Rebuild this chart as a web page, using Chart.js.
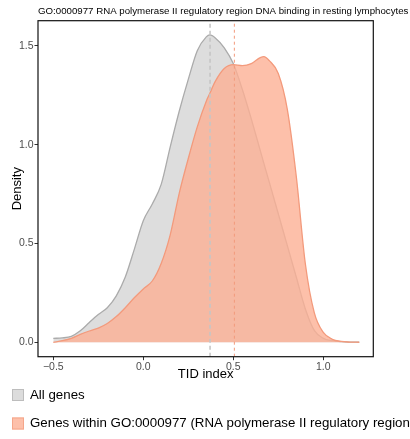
<!DOCTYPE html>
<html lang="en">
<head>
<meta charset="UTF-8">
<title>TID index density</title>
<script src="https://cdn.jsdelivr.net/npm/chart.js"></script>
<style>
  html, body { margin: 0; padding: 0; background: #fff; }
</style>
</head>
<body>
<canvas id="densityChart" width="410" height="439"></canvas>
<script>
// TID index grid and density values
const tidIndex = [-0.5, -0.45, -0.4, -0.35, -0.3, -0.25, -0.2, -0.15, -0.1, -0.05,
                  0, 0.05, 0.1, 0.15, 0.2, 0.25, 0.3, 0.35, 0.37, 0.4,
                  0.45, 0.5, 0.55, 0.6, 0.65, 0.67, 0.7, 0.75, 0.8, 0.85,
                  0.9, 0.95, 1.0, 1.05, 1.1, 1.15, 1.2];
const allGenes = [0.02, 0.022, 0.03, 0.058, 0.1, 0.14, 0.175, 0.235, 0.33, 0.47,
                  0.615, 0.7, 0.8, 0.99, 1.17, 1.33, 1.475, 1.545, 1.555, 1.54,
                  1.49, 1.41, 1.28, 1.13, 0.97, 0.905, 0.81, 0.65, 0.49, 0.33,
                  0.17, 0.06, 0.02, 0.008, 0.003, 0.001, 0];
const goGenes = [0, 0.008, 0.02, 0.04, 0.057, 0.072, 0.095, 0.13, 0.175, 0.225,
                 0.27, 0.31, 0.4, 0.545, 0.755, 0.93, 1.09, 1.22, 1.26, 1.32,
                 1.385, 1.405, 1.4, 1.41, 1.44, 1.445, 1.425, 1.36, 1.18, 0.84,
                 0.4, 0.15, 0.05, 0.015, 0.004, 0.001, 0];
// means (dashed lines)
const meanAll = 0.371;
const meanGo = 0.506;

const xTicks = [-0.5, 0, 0.5, 1.0];
const xTickLabels = ['\u22120.5', '0.0', '0.5', '1.0'];
const yTicks = [0, 0.5, 1.0, 1.5];
const yTickLabels = ['0.0', '0.5', '1.0', '1.5'];
const xRange = [-0.585, 1.278];
const yRange = [-0.073, 1.627];

const seriesNames = ['All genes', 'Genes within GO:0000977 (RNA polymerase II regulatory region DNA binding)'];
const titleText = 'GO:0000977 RNA polymerase II regulatory region DNA binding in resting lymphocytes';

const FONT = '"Liberation Sans", Arial, Helvetica, sans-serif';
const grayFill = 'rgba(187,187,187,0.5)', grayLine = '#ababab';
const orangeFill = 'rgba(252,176,149,0.8)', orangeLine = '#f39a7c';

function pts(ys) { return tidIndex.map((x, i) => ({x: x, y: ys[i]})); }
function vline(x) { return [{x: x, y: yRange[0]}, {x: x, y: yRange[1]}]; }

// frame, title and legend drawn on top
const extras = {
  id: 'extras',
  afterDatasetsDraw(chart) {
    const {ctx, chartArea: a} = chart;
    ctx.save();
    ctx.strokeStyle = '#111';
    ctx.lineWidth = 1.2;
    ctx.strokeRect(a.left, a.top, a.right - a.left, a.bottom - a.top);
    ctx.restore();
  },
  afterDraw(chart) {
    const {ctx, chartArea: a} = chart;
    ctx.save();
    ctx.fillStyle = '#000';
    ctx.font = '9.7px ' + FONT;
    ctx.textBaseline = 'middle';
    ctx.textAlign = 'left';
    ctx.fillText(titleText, a.left, 11);

    const keys = [
      {fill: '#dcdcdc', stroke: '#bdbdbd', y: 395},
      {fill: '#fdc0aa', stroke: '#f5a68a', y: 423.5}
    ];
    ctx.font = '13.3px ' + FONT;
    keys.forEach((k, i) => {
      ctx.fillStyle = k.fill;
      ctx.fillRect(12, k.y - 6, 12, 12);
      ctx.strokeStyle = k.stroke;
      ctx.lineWidth = 1;
      ctx.strokeRect(12.5, k.y - 5.5, 11, 11);
      ctx.fillStyle = '#000';
      ctx.fillText(seriesNames[i], 30, k.y);
    });
    ctx.restore();
  }
};

new Chart(document.getElementById('densityChart'), {
  type: 'line',
  data: {
    datasets: [
      {label: 'mean GO', data: vline(meanGo), borderColor: orangeLine, borderWidth: 1,
       borderDash: [3, 3], pointRadius: 0, fill: false},
      {label: 'mean all', data: vline(meanAll), borderColor: '#c6c6c6', borderWidth: 1.6,
       borderDash: [4, 3], pointRadius: 0, fill: false},
      {label: seriesNames[1], data: pts(goGenes), borderColor: orangeLine, backgroundColor: orangeFill,
       borderWidth: 1.3, pointRadius: 0, fill: 'origin', tension: 0.4, cubicInterpolationMode: 'monotone'},
      {label: seriesNames[0], data: pts(allGenes), borderColor: grayLine, backgroundColor: grayFill,
       borderWidth: 1.3, pointRadius: 0, fill: 'origin', tension: 0.4, cubicInterpolationMode: 'monotone'}
    ]
  },
  options: {
    responsive: false,
    animation: false,
    layout: {padding: {top: 20.7, right: 36.7, bottom: 56.3, left: 0}},
    plugins: {legend: {display: false}, tooltip: {enabled: false}},
    scales: {
      x: {
        type: 'linear', min: xRange[0], max: xRange[1],
        afterBuildTicks: s => { s.ticks = xTicks.map(v => ({value: v})); },
        afterFit: s => { s.height = 26; },
        ticks: {
          callback: v => xTickLabels[xTicks.indexOf(v)],
          color: '#4d4d4d', font: {family: FONT, size: 10.5}, padding: 1, maxRotation: 0
        },
        grid: {drawOnChartArea: false, tickLength: 3.5, tickColor: '#333'},
        border: {display: false},
        title: {display: true, text: 'TID index', color: '#000', font: {family: FONT, size: 13},
                padding: {top: 0, bottom: 0}}
      },
      y: {
        min: yRange[0], max: yRange[1],
        afterBuildTicks: s => { s.ticks = yTicks.map(v => ({value: v})); },
        afterFit: s => { s.width = 38; },
        ticks: {
          callback: v => yTickLabels[yTicks.indexOf(v)],
          color: '#4d4d4d', font: {family: FONT, size: 10.5}, padding: 1
        },
        grid: {drawOnChartArea: false, tickLength: 3.5, tickColor: '#333'},
        border: {display: false},
        title: {display: true, text: 'Density', color: '#000', font: {family: FONT, size: 13},
                padding: {top: 10, bottom: 0}}
      }
    }
  },
  plugins: [extras]
});
</script>
</body>
</html>
